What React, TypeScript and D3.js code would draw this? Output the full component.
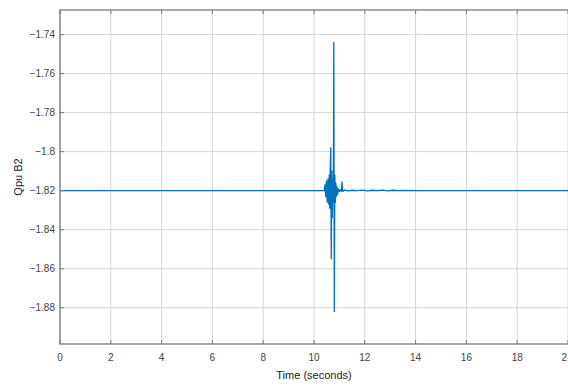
import React from "react";
import * as d3 from "d3";

const xTicks = [0, 2, 4, 6, 8, 10, 12, 14, 16, 18, 20];
const yTicks = [-1.88, -1.86, -1.84, -1.82, -1.8, -1.78, -1.76, -1.74];

const timeS = [
  0, 10.4, 10.43, 10.46, 10.49, 10.52, 10.55, 10.58, 10.6, 10.62, 10.64, 10.66, 10.68,
  10.7, 10.72, 10.74, 10.76, 10.78, 10.8, 10.82, 10.84, 10.86, 10.88, 10.9, 10.93,
  10.96, 11.0, 11.04, 11.08, 11.1, 11.13, 11.2, 11.35, 11.5, 11.7, 11.9, 12.1, 12.3,
  12.5, 12.7, 12.9, 13.1, 13.3, 13.5, 14.0, 20,
];
const qpuB2 = [
  -1.82, -1.82, -1.817, -1.823, -1.815, -1.826, -1.814, -1.827, -1.812, -1.829, -1.808,
  -1.798, -1.855, -1.81, -1.834, -1.814, -1.826, -1.744, -1.882, -1.812, -1.826, -1.816,
  -1.823, -1.818, -1.822, -1.819, -1.8205, -1.8195, -1.8203, -1.8155, -1.8204, -1.8197,
  -1.8201, -1.8198, -1.82, -1.8197, -1.8201, -1.8198, -1.82, -1.8197, -1.8201,
  -1.8198, -1.82, -1.8199, -1.82, -1.82,
];

const W = 568;
const H = 387;
const M = { left: 60, right: 0, top: 10, bottom: 43 };
const FONT = "'Liberation Sans', Arial, Helvetica, sans-serif";

export default function App() {
  const x = d3.scaleLinear().domain([0, 20]).range([M.left, W - M.right]);
  const y = d3.scaleLinear().domain([-1.8986, -1.7274]).range([H - M.bottom, M.top]);
  const pts = timeS.map((t, i) => [t, qpuB2[i]] as [number, number]);
  const line = d3
    .line<[number, number]>()
    .x((d) => x(d[0]))
    .y((d) => y(d[1]));
  const x0 = M.left;
  const x1 = W - M.right;
  const y0 = H - M.bottom;
  const y1 = M.top;
  const axisCol = "#7a7a7a";
  const gridCol = "#d6d6d6";
  const textCol = "#444";
  return (
    <svg
      width={W}
      height={H}
      style={{ position: "absolute", left: 0, top: 0, background: "#fff" }}
    >
      <rect x={0} y={0} width={W} height={H} fill="#fff" />
      {xTicks.map((t) => (
        <line key={"gx" + t} x1={x(t)} x2={x(t)} y1={y0} y2={y1} stroke={gridCol} strokeWidth={1} />
      ))}
      {yTicks.map((t) => (
        <line key={"gy" + t} x1={x0} x2={x1} y1={y(t)} y2={y(t)} stroke={gridCol} strokeWidth={1} />
      ))}
      <path d={line(pts) ?? ""} fill="none" stroke="#0072BD" strokeWidth={1.3} strokeLinejoin="round" />
      <rect x={x0} y={y1} width={x1 - x0 + 2} height={y0 - y1} fill="none" stroke={axisCol} strokeWidth={1.3} />
      {xTicks.map((t) => (
        <g key={"tx" + t}>
          <line x1={x(t)} x2={x(t)} y1={y0} y2={y0 - 4} stroke={axisCol} />
          <line x1={x(t)} x2={x(t)} y1={y1} y2={y1 + 4} stroke={axisCol} />
          <text
            x={t === 20 ? W - 1 : x(t)}
            y={361}
            textAnchor={t === 20 ? "end" : "middle"}
            fontFamily={FONT}
            fontSize={10}
            fill={textCol}
          >
            {t === 20 ? "2" : t}
          </text>
        </g>
      ))}
      {yTicks.map((t) => (
        <g key={"ty" + t}>
          <line x1={x0} x2={x0 + 4} y1={y(t)} y2={y(t)} stroke={axisCol} />
          <text
            x={55}
            y={y(t) + 3.5}
            textAnchor="end"
            fontFamily={FONT}
            fontSize={10}
            fill={textCol}
          >
            {d3.format("")(t)}
          </text>
        </g>
      ))}
      <text
        x={(x0 + x1) / 2}
        y={379}
        textAnchor="middle"
        fontFamily={FONT}
        fontSize={11}
        fill="#222"
      >
        Time (seconds)
      </text>
      <text
        transform={`translate(22,${(y0 + y1) / 2}) rotate(-90)`}
        textAnchor="middle"
        fontFamily={FONT}
        fontSize={11}
        fill="#222"
      >
        Qpu B2
      </text>
    </svg>
  );
}
